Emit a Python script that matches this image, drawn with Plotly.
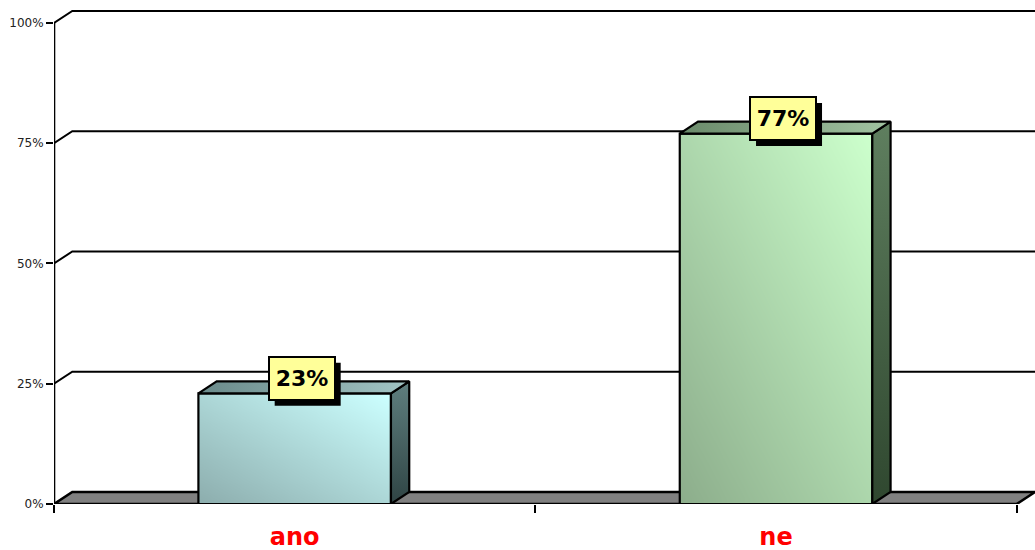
import numpy as np
import plotly.graph_objects as go

# --- data -------------------------------------------------------------
categories = ["ano", "ne"]
shares = [0.23, 0.77]
y_tick_values = [0, 0.25, 0.5, 0.75, 1.0]
y_tick_labels = ["0%", "25%", "50%", "75%", "100%"]

# --- styling ----------------------------------------------------------
front_dark = ["#8DAEAE", "#8DAE8C"]
front_light = ["#CCFFFF", "#CCFFCC"]
side_top = ["#5F7F7F", "#5F7F5F"]
side_bottom = ["#2F4444", "#2F472F"]
top_left = ["#6A8A8A", "#6A8A6A"]
top_right = ["#A2C4C4", "#A2C4A2"]

FONT = "DejaVu Sans"
BAR_WIDTH = 0.4          # fraction of a category band
DX, DY = 0.038, 0.025    # depth offset of the back wall, in axis units
X_MAX = len(categories) + DX
Y_MAX = 1.0374

# data-label box (pixels, relative to the top-centre of each bar)
BOX_W, BOX_H = 66, 43
BOX_DX, BOX_DY = 7, 15
SHADOW = 6

fig = go.Figure()
shapes = []

# back-wall gridlines with their left-wall diagonals
for v in y_tick_values[1:]:
    shapes.append(dict(
        type="path", xref="x", yref="y", layer="below",
        path=f"M 0,{v} L {DX},{v + DY} L {X_MAX},{v + DY}",
        line=dict(color="black", width=2)))

# floor
n = len(categories)
shapes.append(dict(
    type="path", xref="x", yref="y", layer="below",
    path=f"M 0,0 L {DX},{DY} L {n + DX},{DY} L {n},0 Z",
    fillcolor="#808080", line=dict(color="black", width=2.6)))

# value axis line
shapes.append(dict(type="line", xref="x", yref="y", x0=0, x1=0, y0=0, y1=1,
                   line=dict(color="black", width=2.6)))

for i, (cat, v) in enumerate(zip(categories, shares)):
    c = i + 0.5
    x0, x1 = c - BAR_WIDTH / 2, c + BAR_WIDTH / 2

    # front face: diagonal gradient, dark bottom-left -> light top-right
    gx, gy = 40, 40
    xs = np.linspace(x0, x1, gx + 1)
    ys = np.linspace(0, v, gy + 1)
    u = np.linspace(0, 1, gx)
    w = np.linspace(0, 1, gy)
    z = (u[None, :] + w[:, None]) / 2
    fig.add_trace(go.Heatmap(
        x=xs, y=ys, z=z, zmin=0, zmax=1, zsmooth="best",
        colorscale=[[0, front_dark[i]], [1, front_light[i]]],
        showscale=False, hoverinfo="skip"))

    # front outline
    fig.add_trace(go.Scatter(
        x=[x0, x1, x1, x0, x0], y=[0, 0, v, v, 0], mode="lines",
        line=dict(color="black", width=2.2), hoverinfo="skip", showlegend=False))

    # side face
    fig.add_trace(go.Scatter(
        x=[x1, x1 + DX, x1 + DX, x1, x1], y=[0, DY, v + DY, v, 0],
        mode="lines", fill="toself",
        fillgradient=dict(type="vertical",
                          colorscale=[[0, side_bottom[i]], [1, side_top[i]]]),
        line=dict(color="black", width=2.2), hoverinfo="skip", showlegend=False))

    # top face
    fig.add_trace(go.Scatter(
        x=[x0, x0 + DX, x1 + DX, x1, x0], y=[v, v + DY, v + DY, v, v],
        mode="lines", fill="toself",
        fillgradient=dict(type="horizontal",
                          colorscale=[[0, top_left[i]], [1, top_right[i]]]),
        line=dict(color="black", width=2.2), hoverinfo="skip", showlegend=False))

    # drop shadow behind the data label
    shapes.append(dict(
        type="rect", layer="above", xref="x", yref="y",
        xsizemode="pixel", ysizemode="pixel", xanchor=c, yanchor=v,
        x0=BOX_DX - BOX_W / 2 + SHADOW, x1=BOX_DX + BOX_W / 2 + SHADOW,
        y0=BOX_DY - BOX_H / 2 - SHADOW, y1=BOX_DY + BOX_H / 2 - SHADOW,
        fillcolor="black", line=dict(width=0)))

annotations = []
for i, v in enumerate(shares):
    annotations.append(dict(
        x=i + 0.5, y=v, xref="x", yref="y", showarrow=False,
        text=f"{round(v * 100)}%", xshift=BOX_DX, yshift=BOX_DY,
        width=BOX_W - 6, height=BOX_H - 6, borderpad=2, borderwidth=2,
        bgcolor="#FFFF99", bordercolor="black",
        font=dict(family=FONT, size=22, weight="bold", color="black")))

fig.update_layout(
    width=1035, height=550,
    margin=dict(l=54, r=0, t=5, b=46),
    paper_bgcolor="white", plot_bgcolor="white",
    showlegend=False,
    shapes=shapes, annotations=annotations,
    xaxis=dict(range=[0, X_MAX], showgrid=False, zeroline=False, showline=False,
               tickvals=[i + 0.5 for i in range(n)], ticktext=categories,
               ticks="", ticklabelstandoff=16,
               tickfont=dict(family=FONT, size=24, color="#FF0000", weight="bold"),
               minor=dict(tickvals=list(range(n + 1)), ticks="outside", ticklen=8,
                          tickwidth=2, tickcolor="black"),
               fixedrange=True),
    yaxis=dict(range=[0, Y_MAX], showgrid=False, zeroline=False, showline=False,
               tickvals=y_tick_values, ticktext=y_tick_labels,
               ticks="outside", ticklen=7, tickwidth=2, tickcolor="black",
               tickfont=dict(family=FONT, size=12, color="#222222"),
               fixedrange=True),
)

fig.write_html("out.html")
